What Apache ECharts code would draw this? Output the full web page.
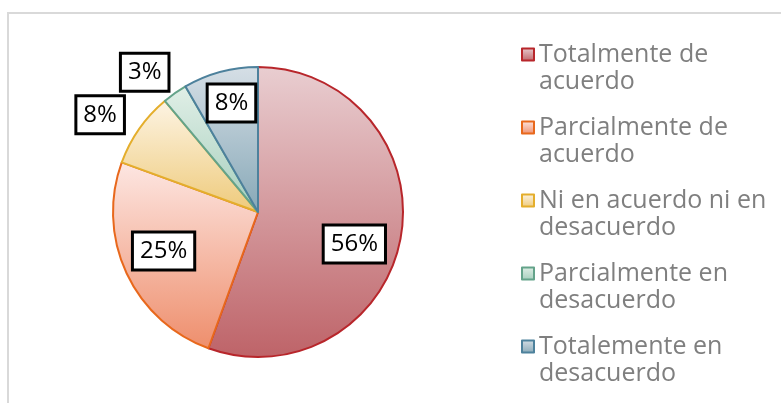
<!DOCTYPE html>
<html>
<head>
<meta charset="utf-8">
<script src="https://cdn.jsdelivr.net/npm/echarts@6/dist/echarts.min.js"></script>
<style>
  html, body { margin: 0; padding: 0; background: #fff; }
  #chart { width: 781px; height: 403px; }
</style>
</head>
<body>
<div id="chart"></div>
<script>
// categories and response counts (shares of 36 answers)
const categories = [
  'Totalmente de acuerdo',
  'Parcialmente de acuerdo',
  'Ni en acuerdo ni en desacuerdo',
  'Parcialmente en desacuerdo',
  'Totalemente en desacuerdo'
]
const counts = [20, 9, 3, 1, 3]

// slice styling: border, gradient top, gradient bottom
const borderColors = ['#b8262b', '#e8681c', '#e4ae2c', '#64a38a', '#4d819c']
const topColors = ['#e9ced1', '#fde7e3', '#fdf4e4', '#e1efe7', '#d6dfe6']
const bottomColors = ['#be6368', '#ee8e6c', '#eeca7a', '#a4cebc', '#87a8b7']

// label nudges from the inside position
const labelShift = [[22, 19], [-26, 7], [-96, -54], [-70, -78], [-7, -36]]

const chart = echarts.init(document.getElementById('chart'))

const seriesData = categories.map((name, i) => ({
  name,
  value: counts[i],
  itemStyle: {
    color: new echarts.graphic.LinearGradient(0, 0, 0, 1, [
      { offset: 0, color: topColors[i] },
      { offset: 1, color: bottomColors[i] }
    ]),
    borderColor: borderColors[i],
    borderWidth: 2
  }
}))

const option = {
  animation: false,
  graphic: [{
    type: 'rect',
    shape: { x: 8, y: 13, width: 790, height: 400 },
    style: { fill: 'none', stroke: '#d9d9d9', lineWidth: 2 },
    silent: true
  }],
  legend: {
    orient: 'vertical',
    left: 516,
    top: 9,
    itemWidth: 12,
    itemHeight: 12,
    itemGap: -8,
    icon: 'rect',
    // blank first line keeps the icon level with the first text line
    formatter: name => '\n' + name.replace(/ (\S+)$/, '\n$1'),
    textStyle: {
      fontFamily: 'Open Sans',
      fontSize: 25,
      color: '#7f7f7f',
      lineHeight: 27
    }
  },
  series: [{
    type: 'pie',
    center: [258, 212],
    radius: 145,
    startAngle: 90,
    clockwise: true,
    percentPrecision: 0,
    data: seriesData,
    label: {
      show: true,
      position: 'inside',
      formatter: '{d}%',
      fontFamily: 'Open Sans',
      fontSize: 24,
      color: '#000',
      backgroundColor: '#fff',
      borderColor: '#000',
      borderWidth: 3,
      padding: [6, 6, 5, 6]
    },
    labelLine: { show: false },
    labelLayout: params => ({
      dx: labelShift[params.dataIndex][0],
      dy: labelShift[params.dataIndex][1]
    }),
    emphasis: { disabled: true }
  }]
}

chart.setOption(option)
</script>
</body>
</html>
